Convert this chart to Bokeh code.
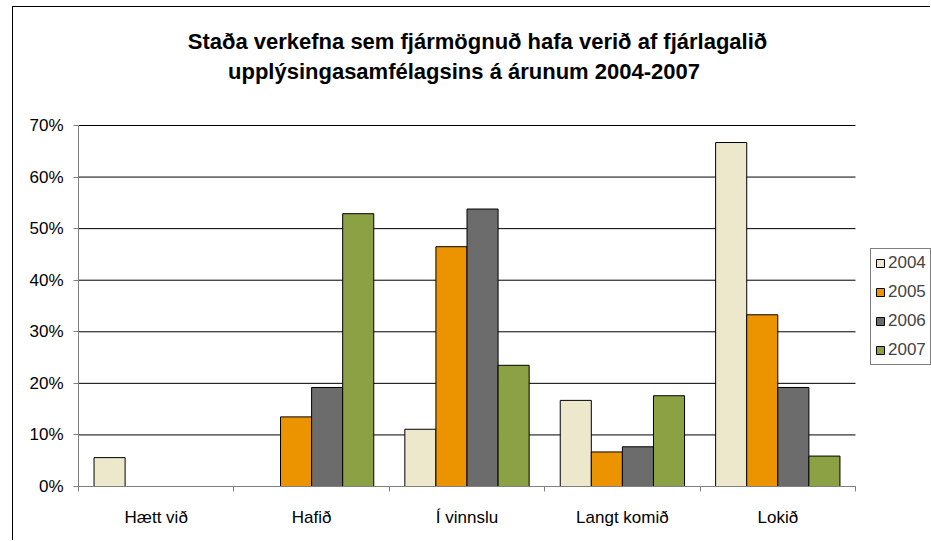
from bokeh.plotting import figure
from bokeh.models import (Range1d, FixedTicker, NumeralTickFormatter, Legend, LegendItem,
                          Label, ColumnDataSource)
from bokeh.embed import file_html
from bokeh.resources import INLINE

categories = ["Hætt við", "Hafið", "Í vinnslu", "Langt komið", "Lokið"]
years = ["2004", "2005", "2006", "2007"]
v2004 = [0.056, 0.0, 0.111, 0.167, 0.667]
v2005 = [0.0, 0.135, 0.465, 0.067, 0.333]
v2006 = [0.0, 0.192, 0.538, 0.077, 0.192]
v2007 = [0.0, 0.529, 0.235, 0.176, 0.059]
y_ticks = [0.0, 0.1, 0.2, 0.3, 0.4, 0.5, 0.6, 0.7]
colors = ["#EDE7CB", "#EC9400", "#6C6C6C", "#8CA044"]
title_lines = ["Staða verkefna sem fjármögnuð hafa verið af fjárlagalið",
               "upplýsingasamfélagsins á árunum 2004-2007"]

FONT = "Liberation Sans"
# layout constants (pixels)
W, H = 918, 534
LEFT, BOTTOM = 65, 55
PX_PER_CAT = 155.4
PX_PER_UNIT_Y = 361 / 0.7
n = len(categories)
y_max = y_ticks[-1]
x_end = (W - LEFT) / PX_PER_CAT
y_end = (H - BOTTOM) / PX_PER_UNIT_Y

p = figure(width=W, height=H, output_backend="svg", toolbar_location=None,
           x_range=Range1d(0, x_end), y_range=Range1d(0, y_end),
           min_border_left=LEFT, min_border_right=0, min_border_top=0,
           min_border_bottom=BOTTOM)
p.styles = {"margin-left": "12px", "margin-top": "6px",
            "border-left": "1px solid black", "border-top": "1px solid black"}
p.outline_line_color = None
p.background_fill_color = "white"
p.border_fill_color = "white"
p.xgrid.grid_line_color = None
p.ygrid.grid_line_color = None

# horizontal gridlines limited to the plotting area
p.segment(x0=[0] * len(y_ticks), x1=[n] * len(y_ticks), y0=y_ticks, y1=y_ticks,
          line_color="black", line_width=1)

series = [v2004, v2005, v2006, v2007]
bw = 0.2
items = []
for k, (yr, vals, col) in enumerate(zip(years, series, colors)):
    xs = [i + 0.5 + (k - 1.5) * bw for i in range(n)]
    src = ColumnDataSource(dict(x=xs, top=vals))
    r = p.vbar(x="x", top="top", width=bw, source=src, fill_color=col,
               line_color="black", line_width=1)
    items.append(LegendItem(label=yr, renderers=[r]))

# x axis
p.xaxis.bounds = (0, n)
p.xaxis.ticker = FixedTicker(ticks=[i + 0.5 for i in range(n)],
                             minor_ticks=list(range(n + 1)))
p.xaxis.major_label_overrides = {i + 0.5: c for i, c in enumerate(categories)}
p.xaxis.major_tick_out = 0
p.xaxis.major_tick_in = 0
p.xaxis.minor_tick_out = 5
p.xaxis.minor_tick_in = 0
p.xaxis.minor_tick_line_color = "#808080"
p.xaxis.axis_line_color = "#808080"
p.xaxis.major_label_standoff = 16
p.xaxis.major_label_text_font = FONT
p.xaxis.major_label_text_font_size = "17px"
p.xaxis.major_label_text_color = "black"

# y axis
p.yaxis.bounds = (0, y_max)
p.yaxis.ticker = FixedTicker(ticks=y_ticks)
p.yaxis.formatter = NumeralTickFormatter(format="0%")
p.yaxis.major_tick_out = 5
p.yaxis.major_tick_in = 0
p.yaxis.minor_tick_line_color = None
p.yaxis.major_tick_line_color = "#808080"
p.yaxis.axis_line_color = "#808080"
p.yaxis.major_label_standoff = 10
p.yaxis.major_label_text_font = FONT
p.yaxis.major_label_text_font_size = "17px"
p.yaxis.major_label_text_color = "black"

# title, two centred lines above the plotting area
t_pos = [(477, 41), (463.5, 71)]  # page pixel centres of the two lines
for txt, (px, py) in zip(title_lines, t_pos):
    p.add_layout(Label(x=(px - 78) / PX_PER_CAT, y=(486 - py) / PX_PER_UNIT_Y, text=txt,
                       text_font=FONT, text_font_style="bold", text_font_size="22px",
                       text_color="black", text_align="center", text_baseline="middle"))

legend = Legend(items=items, location=(792, 121), orientation="vertical",
                label_text_font=FONT, label_text_font_size="17px",
                glyph_width=10, glyph_height=10, label_standoff=3,
                padding=4, spacing=9, margin=0, label_height=20,
                border_line_color="black", border_line_width=1,
                background_fill_alpha=1.0)
p.add_layout(legend, "center")

open("out.html", "w").write(file_html(p, INLINE))
